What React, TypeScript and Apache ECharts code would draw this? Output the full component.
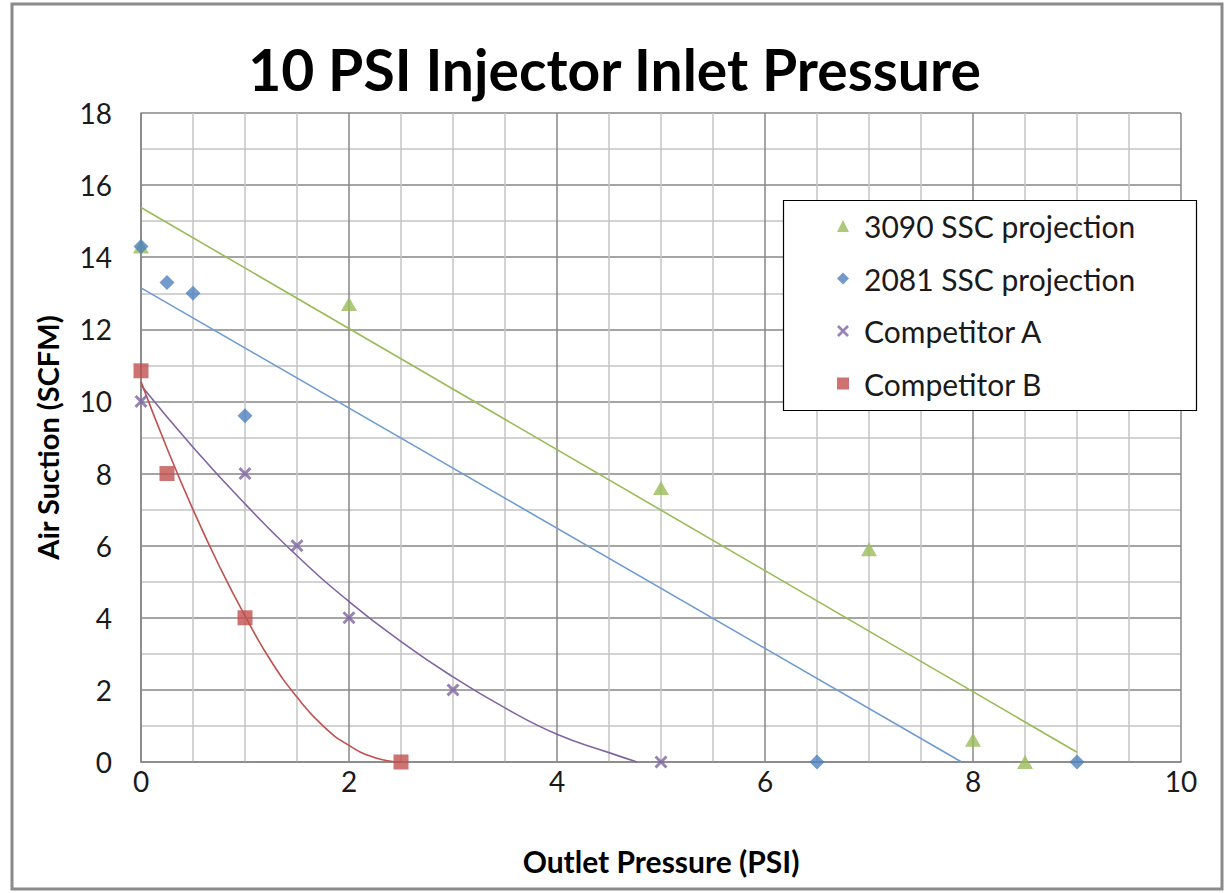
import React, { useEffect, useRef } from "react";
import * as echarts from "echarts";

// Measured points
const ssc3090X = [0, 2, 5, 7, 8, 8.5];
const ssc3090Y = [14.3, 12.7, 7.6, 5.9, 0.62, 0];
const ssc2081X = [0, 0.25, 0.5, 1, 6.5, 9];
const ssc2081Y = [14.3, 13.3, 13.0, 9.6, 0, 0];
const compAX = [0, 1, 1.5, 2, 3, 5];
const compAY = [10, 8, 6, 4, 2, 0];
const compBX = [0, 0.25, 1, 2.5];
const compBY = [10.85, 8, 4, 0];

// Trend lines
const trend3090X = [0, 9];
const trend3090Y = [15.38, 0.27];
const trend2081X = [0, 7.89];
const trend2081Y = [13.15, 0];
const trendAX = [0, 0.5, 1, 1.5, 2, 2.5, 3, 3.5, 4, 4.5, 4.77];
const trendAY = [10.45, 8.73, 7.16, 5.72, 4.45, 3.34, 2.36, 1.5, 0.77, 0.26, 0];
const trendBX = [0, 0.25, 0.5, 0.75, 1, 1.25, 1.5, 1.75, 2, 2.25, 2.5];
const trendBY = [10.55, 8.7, 7.0, 5.45, 4.05, 2.8, 1.8, 1.0, 0.46, 0.12, 0];

const seriesNames = ["3090 SSC projection", "2081 SSC projection", "Competitor A", "Competitor B"];
const xTicks = [0, 2, 4, 6, 8, 10];
const yTicks = [0, 2, 4, 6, 8, 10, 12, 14, 16, 18];

const GREEN = "#9BBB59";
const BLUE = "#4F81BD";
const PURPLE = "#8064A2";
const RED = "#C0504D";
const FONT = "Lato, 'Open Sans', sans-serif";

const zip = (xs: number[], ys: number[]) => xs.map((x, i) => [x, ys[i]]);
const CROSS = "path://M0,1.6 L1.6,0 L5,3.4 L8.4,0 L10,1.6 L6.6,5 L10,8.4 L8.4,10 L5,6.6 L1.6,10 L0,8.4 L3.4,5 Z";

export default function App() {
  const ref = useRef<HTMLDivElement>(null);
  useEffect(() => {
    if (!ref.current) return;
    const chart = echarts.init(ref.current, undefined, { renderer: "svg" });
    const trend = (name: string, xs: number[], ys: number[], color: string, smooth: boolean) => ({
      name,
      type: "line",
      data: zip(xs, ys),
      showSymbol: false,
      symbol: "none",
      smooth,
      lineStyle: { color, width: 1.6 },
      z: 3,
      silent: true,
    });
    chart.setOption({
      animation: false,
      backgroundColor: "#ffffff",
      title: {
        text: "10 PSI Injector Inlet Pressure",
        left: "center",
        top: 35,
        textStyle: { fontFamily: FONT, fontSize: 57, fontWeight: "bold", color: "#000" },
      },
      graphic: [
        {
          type: "rect",
          shape: { x: 12, y: 4, width: 1210, height: 885 },
          style: { fill: "none", stroke: "#8a8a8a", lineWidth: 3 },
          z: 1,
        },
        {
          type: "rect",
          shape: { x: 783.5, y: 200.5, width: 413, height: 210 },
          style: { fill: "#ffffff", stroke: "#000000", lineWidth: 1.2 },
          z: 5,
        },
      ],
      legend: {
        data: seriesNames,
        orient: "vertical",
        left: 837,
        top: 211,
        padding: 0,
        itemWidth: 12,
        itemHeight: 12,
        itemGap: 22.5,
        z: 10,
        textStyle: { fontFamily: FONT, fontSize: 30, color: "#1a1a1a", lineHeight: 30, padding: [0, 0, 0, 10] },
      },
      grid: { left: 141, right: 48, top: 113, bottom: 131, containLabel: false },
      xAxis: {
        type: "value",
        min: xTicks[0],
        max: xTicks[xTicks.length - 1],
        interval: 2,
        name: "Outlet Pressure (PSI)",
        nameLocation: "middle",
        nameGap: 84,
        nameTextStyle: { fontFamily: FONT, fontSize: 30, fontWeight: "bold", color: "#000" },
        axisLine: { show: true, onZero: false, lineStyle: { color: "#868686", width: 1.5 } },
        axisTick: { show: false },
        axisLabel: { fontFamily: FONT, fontSize: 28, color: "#1a1a1a", margin: 5 },
        splitLine: { show: true, lineStyle: { color: "#878787", width: 1.5 } },
        minorTick: { show: false, splitNumber: 4 },
        minorSplitLine: { show: true, lineStyle: { color: "#c4c4c4", width: 1.5 } },
      },
      yAxis: {
        type: "value",
        min: yTicks[0],
        max: yTicks[yTicks.length - 1],
        interval: 2,
        name: "Air Suction (SCFM)",
        nameLocation: "middle",
        nameGap: 79,
        nameTextStyle: { fontFamily: FONT, fontSize: 29, fontWeight: "bold", color: "#000" },
        axisLine: { show: true, onZero: false, lineStyle: { color: "#868686", width: 1.5 } },
        axisTick: { show: false },
        axisLabel: { fontFamily: FONT, fontSize: 28, color: "#1a1a1a", margin: 29 },
        splitLine: { show: true, lineStyle: { color: "#878787", width: 1.5 } },
        minorTick: { show: false, splitNumber: 2 },
        minorSplitLine: { show: true, lineStyle: { color: "#c4c4c4", width: 1.5 } },
      },
      series: [
        trend("3090 trend", trend3090X, trend3090Y, GREEN, false),
        trend("2081 trend", trend2081X, trend2081Y, "#6f9bd1", false),
        trend("A trend", trendAX, trendAY, PURPLE, true),
        trend("B trend", trendBX, trendBY, RED, true),
        {
          name: seriesNames[0],
          type: "scatter",
          data: zip(ssc3090X, ssc3090Y),
          symbol: "triangle",
          symbolSize: [16, 14],
          itemStyle: { color: GREEN },
          z: 4,
        },
        {
          name: seriesNames[1],
          type: "scatter",
          data: zip(ssc2081X, ssc2081Y),
          symbol: "diamond",
          symbolSize: 15,
          itemStyle: { color: BLUE },
          z: 4,
        },
        {
          name: seriesNames[2],
          type: "scatter",
          data: zip(compAX, compAY),
          symbol: CROSS,
          symbolSize: 13,
          itemStyle: { color: PURPLE },
          z: 4,
        },
        {
          name: seriesNames[3],
          type: "scatter",
          data: zip(compBX, compBY),
          symbol: "rect",
          symbolSize: 15,
          itemStyle: { color: RED },
          z: 4,
        },
      ],
    });
    return () => chart.dispose();
  }, []);
  return (
    <div
      ref={ref}
      style={{ position: "absolute", left: 0, top: 0, width: 1229, height: 893, background: "#fff" }}
    />
  );
}
